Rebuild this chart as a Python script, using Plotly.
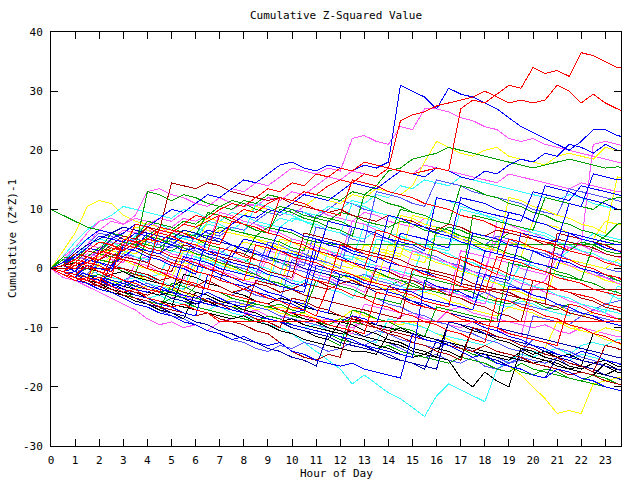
import plotly.graph_objects as go

HOURS = [i * 0.5 for i in range(49)]
X_TICKS = list(range(24))
Y_TICKS = [-30, -20, -10, 0, 10, 20, 30, 40]

s01 = [0, 0.5, 1.5, 1, 2.5, 3.5, 3, 4.5, 5, 4.5, 6, 7.5, 7, 8, 9, 8.5, 10, 9.5, 11, 12, 11.5, 13, 12.5, 14, 15, 14.5, 16, 15.5, 17, 16.5, 16, 16.5, 17, 16.5, 27, 28.5, 28, 29.5, 31, 30.5, 34, 33, 33.5, 32.5, 36.5, 36, 35, 34, 34]
s02 = [0, -0.5, 0.5, 2, 1.5, 3, 4, 3.5, 5, 6.5, 6, 7.5, 9, 8.5, 10, 11, 10.5, 12, 13.5, 13, 14.5, 14, 16, 15.5, 17, 16.5, 18, 17.5, 17, 25, 26, 26.5, 27.5, 28, 28.5, 29, 30, 29, 28, 28.5, 28, 28.5, 31, 30, 28, 29.5, 28, 27, 26]
s03 = [0, 1, 2.5, 4, 3.5, 5, 6.5, 6, 7.5, 8.5, 8, 9.5, 11, 10.5, 12, 13.5, 13, 14.5, 14, 15.5, 17, 16.5, 16, 17, 16.5, 22, 22.5, 21.5, 21, 24, 23.5, 27, 27, 26.5, 25.5, 25, 24, 23.5, 22, 21.5, 22, 21, 20.5, 20, 19.5, 19, 18.5, 18, 18]
s04 = [0, 0.5, 2, 3.5, 3, 5, 6, 7.5, 7, 8.5, 10, 9.5, 11, 12.5, 12, 13.5, 15, 14.5, 16, 17.5, 18, 17, 16.5, 17.5, 17, 16.5, 17.5, 17, 18, 31, 30, 29, 27, 30.5, 29.5, 29, 28, 27, 25.5, 24, 23, 22, 21, 20, 21.5, 23.5, 23.5, 22.5, 22]
s05 = [0, -0.5, 0, 1.5, 1, 0.5, 2, 3.5, 3, 2.5, 4, 5.5, 5, 6.5, 6, 7.5, 9, 8.5, 10, 9.5, 11, 12.5, 12, 11.5, 13, 14.5, 14, 13.5, 15, 16.5, 16, 15.5, 17, 16.5, 15.5, 15, 16.5, 16, 17.5, 18.5, 18, 19.5, 19, 21, 20.5, 19.5, 21, 20, 20]
s06 = [0, 1, 0.5, 2, 3.5, 3, 4.5, 4, 5.5, 7, 6.5, 8, 7.5, 9, 10.5, 10, 11.5, 11, 12.5, 12, 11.5, 13, 12.5, 12, 11.5, 13, 12.5, 14, 16.5, 17, 18.5, 19, 19.5, 20.5, 20, 19.5, 19, 18.5, 18, 17.5, 17, 17.5, 18, 18.5, 18, 17.5, 17, 17.2, 17]
s07 = [0, 1, 0.5, 2, 3.5, 3, 2.5, 4, 5, 4.5, 6, 5.5, 7, 8.5, 8, 7.5, 9, 10.5, 10, 9.5, 11, 10.5, 12, 11.5, 11, 12.5, 12, 13.5, 13, 12.5, 14, 18, 21.5, 20.5, 19.5, 19, 20, 20.5, 19, 18.5, 18, 17.5, 19, 19.5, 19, 18.5, 20.5, 20, 20]
s08 = [0, 3, 6, 10.5, 11.5, 11, 9, 8, 7.5, 7, 6, 5.5, 5, 4, 3.5, 3, 4.5, 4, 3, 2.5, 2, 1, 0.5, 0, -0.5, -1.5, -2, -1, -1.5, -2.5, -3, -3.5, -4, -3.5, -4.5, -5, -4, -5.5, -6, -5, -6.5, -7, -6, -7.5, -8, -7.5, -8, -8.5, -8.5]
s09 = [0, 2, 4.5, 6.5, 8, 9, 10.5, 10, 9.5, 9, 8.5, 10, 9.5, 8.5, 8, 9.5, 9, 8, 7.5, 7, 8.5, 8, 7, 6.5, 6, 5.5, 5, 6.5, 6, 5, 4.5, 4, 5.5, 5, 4.5, 3.5, 3, 4.5, 4, 3.5, 3, 2, 1.5, 3, 2.5, 2, 1, 0.5, 0.5]
s10 = [0, 1.5, 3.5, 6, 8, 8.5, 7.5, 9, 13, 13.5, 12.5, 12, 11, 12.5, 12, 11, 10.5, 11, 10, 9.5, 9, 10.5, 10, 9, 8.5, 8, 9.5, 9, 8, 7.5, 7, 8.5, 8, 7.5, 7, 6, 5.5, 5, 6.5, 6, 5, 4.5, 4, 3, 5, 4.5, 3.5, 3, 3]
s11 = [0, 0.5, 1.5, 3, 2.5, 4, 5.5, 5, 7, 6.5, 14.5, 14, 13.5, 14.5, 14, 13, 12.5, 12, 11.5, 12, 11, 10.5, 10, 9.5, 10, 9, 8.5, 8, 9, 8.5, 8, 7, 6.5, 7.5, 7, 6, 5.5, 6.5, 6, 5.5, 5, 4, 5, 4.5, 4, 3.5, 2.5, 2, 2]
s12 = [0, -0.5, -1, 0, 1.5, 1, 2, 3.5, 13, 12.5, 11.5, 12.5, 12, 11, 10.5, 11.5, 11, 10, 9.5, 10.5, 10, 9, 8.5, 8, 9.5, 9, 8, 7.5, 7, 8, 7.5, 6.5, 6, 7, 6.5, 5.5, 5, 4.5, 6, 5.5, 5, 4.5, 3.5, 3, 4.5, 4, 3, 2.5, 2.5]
s13 = [10, 9, 8, 7, 6.5, 6, 5, 4.5, 4, 3.5, 3, 4, 3.5, 2.5, 2, 1.5, 1, 2.5, 2, 1, 0.5, 0, -0.5, -1, -1.5, -1, -2, -2.5, -3, -2, -2.5, -3.5, -4, -4.5, -3.5, -4, -5, -5.5, -6, -5, -5.5, -6.5, -7, -6, -6.5, -7.5, -8, -8.5, -8.5]
s14 = [0, 0.5, 1.5, 1, 2.5, 2, 3, 4.5, 4, 3.5, 5, 6.5, 6, 5.5, 7, 6.5, 6, 5.5, 7, 6.5, 6, 5, 4.5, 4.2, 4, 4, 4, 4, 4, 4, 4, 4, 4, 4, 4, 4, 4, 4, 4, 4, 4, 4, 4, 4, 4, 4, 4, 4, 4]
s15 = [0, -0.5, -1.5, -2, -1.5, -3, -4, -3.5, -5, -5.5, -6.5, -6, -7, -7.5, -9, -9, -9, -9, -9, -9, -9, -9, -9, -9, -9, -9, -9, -9, -9, -9, -9, -9, -9, -9, -9, -9, -9, -9, -9, -9, -9, -9, -9, -9, -9, -9, -9, -9, -9]
s16 = [0, 0, 0, 0, 0, 0, 0, -0.5, -1, -2, -1.5, -2.5, -3, -2, -3, -4, -3.5, -2.5, -3, -4, -3.5, -2.5, -3, -3.5, -2.5, -2, -3, -3.5, -3.5, -3.5, -3.5, -3.5, -3.5, -3.5, -3.5, -3.5, -3.5, -3.5, -3.5, -3.5, -3.5, -3.5, -3.5, -3.5, -3.5, -3.5, -3.5, -3.5, -3.5]
s17 = [0, -0.5, -1, -1.5, -2, -2.5, -2, -3, -3.5, -4, -4.5, -5, -5.5, -6, -6.5, -7.5, -8, -8.5, -9.5, -10, -11, -12.5, -14, -15.5, -17, -19.5, -18, -19.5, -21, -22, -23.5, -25, -21.5, -19.5, -20.5, -21.5, -22.5, -17, -15.5, -14.5, -15, -14, -13.5, -14.5, -13, -12.5, -13, -12, -12]
s18 = [0, -1, -1.5, -2, -1.5, -2.5, -3, -3.5, -3, -4, -4.5, -5, -4.5, -5.5, -6, -6.5, -6, -7, -6.5, -7.5, -8, -7.5, -8.5, -9, -8.5, -7, -8, -8.5, -9, -9.5, -9, -10, -11, -12, -13, -14, -14.5, -16, -16.5, -18, -20, -22, -24.5, -24, -24.5, -19.5, -19, -18.5, -18.5]
s19 = [0, -0.5, -1, -2, -1.5, -2.5, -3, -3.5, -4, -4.5, -4, -5, -6, -5.5, -6.5, -7, -7.5, -8, -8.5, -9, -8.5, -9.5, -10, -10.5, -11, -10.5, -11.5, -12, -12.5, -13, -14, -14.5, -15, -15.5, -18.5, -20, -17.5, -19, -20, -13.5, -14.5, -14, -15, -14.5, -15.5, -16, -15.5, -16.5, -17]
s20 = [0, -1, -2, -2.5, -3.5, -4, -5, -6, -6.5, -7.5, -8, -9, -9.5, -10.5, -11, -12, -11.5, -12.5, -13, -12.5, -14, -14.5, -15.5, -16, -16.5, -16, -17, -17.5, -18, -18.5, -11, -12, -12.5, -13, -14, -15, -14.5, -16, -16.5, -17, -18, -18.5, -17, -17.5, -18.5, -19, -20, -20.5, -21]
s21 = [0, -1, -1.5, -2.5, -3, -4, -4.5, -5.5, -6, -7, -8, -8.5, -9.5, -10.5, -11, -12, -12.5, -13.5, -14, -13, -13.5, -12.5, -13, -14, -13.5, -12.5, -13, -12, -12.5, -13.5, -14.5, -15, -14.5, -15.5, -16, -15, -16.5, -17, -16, -15, -15.5, -16, -15, -16.5, -17, -16, -15.5, -16, -16]
s22 = [0, -1.5, -2, -3, -4, -5, -6, -7, -8.5, -9.5, -9, -10, -9.5, -10.5, -9, -8.5, -8, -7, -8, -8.5, -7.5, -8, -9, -8.5, -9.5, -10, -9, -9.5, -10.5, -8, -7.5, -8.5, -9, -7, -6.5, -7.5, -8, -8.5, -9, -9.5, -10, -9.5, -10.5, -11, -10, -10.5, -11, -11.5, -11.5]
s23 = [0, -0.5, -1, 0.5, -0.5, -1.5, 5, 4.5, 3.5, 3, 2, 1.5, 1, 0, -0.5, -1.5, -2, 4, 3.5, 3, 2, 1.5, 1, 0, -0.5, -1, -2, -2.5, -3, -4, -4.5, -5.5, -6, -6.5, 2, 1.5, 0.5, 0, -1, -1.5, -2, -2.5, -3.5, -4, -4.5, -5, -6, -6.5, -7]
s24 = [0, 1, 2, 3.5, 5.5, 5, 4.5, 6, 5.5, 4.5, 4, 3, 3.5, 2.5, 2, 1, 0.5, 0, -1, -1.5, -2.5, -3, 5, 4.5, 4, 3, 2.5, 2, 1, 0.5, 0, -0.5, -1.5, -2, -3, 6, 5.5, 5, 4, 3.5, 3, 2, 1.5, 1, 0, -0.5, -1, -1.5, -2]
s25 = [0, 0.5, -0.5, -1, 1, 0.5, 0, -1, -1.5, -1, 3, 2.5, 2, 1, 0.5, 0, -0.5, -1.5, -2, -2.5, -3, -2, -3, -3.5, -4, -5, -1, -1.5, -2, -3, -3.5, -4, -3, -3.5, -4.5, -5, -5.5, -6, -6.5, -5.5, -6, -7, -7.5, -8, -6, -6.5, -7, -7.5, -8]
s26 = [0, -1, -1.5, -2.5, -3, -3.5, -4.5, -5, -5.5, -6.5, -7, -7.5, -8, -7.5, -8.5, -9, -9.5, -10.5, -11, -12.5, -14, -15, -15.5, -14.5, -15, -8, -9, -10, -10.5, -11, -11.5, -12, -12.5, -13, -13.5, -14, -13, -14, -14.5, -15, -16, -16.5, -17, -18, -17.5, -18, -19, -19.5, -20]
s27 = [0, 0.5, 2, 1.5, 3, 4.5, 4, 5.5, 7, 6.5, 6, 7.5, 7, 6, 5.5, 7, 6.5, 8, 9.5, 9, 10, 9.5, 8.5, 10, 11.5, 11, 10, 9.5, 9, 8.5, 7.5, 7, 6.5, 6, 5, 4.5, 4, 5.5, 5, 4, 3.5, 3, 2.5, 1.5, 1, 0.5, 0, -0.5, -0.5]
s28 = [0, -0.5, -1, -2, -1.5, -2.5, -3, -2, -3, -3.5, -4, 2, 1.5, 1, 0, -0.5, -1, -1.5, -2, -3, -3.5, -4, 3, 2.5, 2, 1, 0.5, 0, -0.5, 6, 5.5, 5, 4, 3.5, 12, 11.5, 11, 10, 9.5, 9, 8, 14, 13.5, 13, 12, 11.5, 11, 10, 10]
s29 = [0, -0.5, -1.5, -2, -3, -3.5, -4, -5, -5.5, -6, -5, -5.5, -6.5, -7, -7.5, -8, -8.5, -9, -8, -8.5, -9.5, -10, -10.5, -11, -12, -12.5, -13, -13.5, -13, -14, -14.5, -15, -15.5, -16, -15, -15.5, -16, -17, -17.5, -16, -17, -17.5, -18, -18.5, -19, -19.5, -20, -20.5, -21]
s30 = [0, 0.5, 1, 2.5, 2, 3, 2.5, 1.5, 2, 1.5, 1, 0, 1.5, 1, 0, -0.5, -1, -1.5, 3, 2.5, 2, 1, 0.5, 0, -0.5, -1, -1.5, -2.5, -3, -3.5, -4, -3, -3.5, -4.5, 3, 2.5, 2, 1.5, 1, 0, -0.5, -1, 5, 4.5, 4, 3, 2.5, 2, 1.5]
s31 = [0, -0.5, -1, -2, -2.5, -2, -3, -3.5, -4, -4.5, -3.5, -4, -5, -5.5, -6, -5, -5.5, -6.5, -7, -6.5, -7, -6, 0, -0.5, -1, -2, -2.5, -3, -3.5, -4.5, -5, -4, -4.5, -5.5, -6, -7, -7.5, -8, -6.5, -7, -7.5, -8.5, -9, -10, -10.5, -11, -10, -10.5, -11]
s32 = [0, -0.5, -1.5, -2, -2.5, -3.5, -4, -4.5, -5, -5.5, -6, -6.5, -7, -7.5, -8, -8.5, -8, -9, -9.5, -10.5, -11, -12, -12.5, -13, -13.5, -14, -14, -14.5, -11, -10, -11, -11.5, -12, -13, -13.5, -14, -14.5, -15, -15.5, -14, -15, -15.5, -16.5, -17, -16.5, -17.5, -18, -17, -17.5]
s33 = [0, 0.5, -0.5, -1.5, -2, -1, -2, -3, -3.5, -4, -5, -5.5, -6, -5, -6, -6.5, -7.5, -8, -8.5, -9, -10, -10.5, -11, -11.5, -12.5, -13, -13.5, -14, -15, -15.5, -16, -16.5, -17, -9, -9.5, -10, -11, -11.5, -12, -12.5, -13, -14, -14.5, -15, -15.5, -16, -16.5, -17, -17.5]
s34 = [0, -1, -1.5, -2, 3, 2.5, 1.5, 1, 0, -0.5, -1.5, -2, -2.5, -3.5, -4, -4.5, -5, -5.5, -6, -7, -7.5, -8, -8.5, -9.5, -10, -10.5, -11, -4, -4.5, -5, -6, -6.5, -7, -7.5, -8.5, -9, -9.5, -10, -11, -11.5, -12, -12.5, -13, -6, -6.5, -7.5, -8, -8.5, -9]
s35 = [0, 1, 0.5, 2, 1.5, 3, 4, 3.5, 4.5, 4, 5.5, 5, 6, 7.5, 7, 6.5, 8, 7.5, 7, 8.5, 8, 9.5, 9, 10.5, 10, 11.5, 11, 12.5, 12, 14, 13.5, 15, 14.5, 14, 15.5, 15, 14.5, 14, 13.5, 13, 12.5, 12, 11.5, 12.5, 12, 11, 10.5, 10, 9.5]
s36 = [0, -1, -0.5, -1.5, -2, -3, -2.5, -3.5, -4, -3, -4, -4.5, -5, -4, -5, -6, -6.5, -5.5, -6, -7, -7.5, -7, -8, -8.5, -9, -8, -8.5, -9.5, -3, -3.5, -4, -5, -5.5, -6, -6.5, -7, -1, -1.5, -2, 6, 5.5, 5, 4.5, 11, 10.5, 16, 15.5, 15, 15]
s37 = [0, 0.5, 0, -1, -0.5, -1.5, -2, -1, -2, -2.5, -3, -3.5, -2.5, -3.5, -4, -4.5, -3.5, -4.5, -5, -5.5, 1.5, 1, 0, -0.5, -1, -1.5, -1, -2, -2.5, -3, -2, -2.5, -3.5, -4, -4.5, -5, -4, -5, -5.5, -6, -6.5, -7, -6, -7, -7.5, -8, -8.5, -9, -9]
s38 = [0, -0.5, -1, -1.5, -1, -2, -2.5, -3, -3.5, -4, -3.5, -4.5, -5, -5.5, -6, -6.5, -7, -6, -6.5, -7, -8, -8.5, -9, -9.5, -8.5, -9, -9.5, -10, -10.5, -10, -11, -11.5, -6.5, -7, -7.5, -8, -8.5, -9, 1, 0.5, 0, -0.5, -1, -1.5, -2, 4, 5.5, 7.5, 8]
s39 = [0, -0.5, -1.5, -2, -2.5, -3, -2, -3, -3.5, -4, -5, -4.5, -5.5, -6, -6.5, -7, -7.5, -7, -8, -8.5, -7.5, -8.5, -9, -10, -10.5, -11, -6, -6.5, -7, -7.5, -8, -8.5, -9, -9.5, -10, -9, -10, -10.5, -11, -11.5, -3, -2, 2, 3.5, 4, 21, 21.5, 21, 20.5]
s40 = [0, 0.5, 1.5, 1, 2, 3.5, 3, 2.5, 4, 5.5, 5, 4.5, 4, 5, 6.5, 6, 5.5, 5, 4, 3.5, 5, 4.5, 4, 3, 2.5, 2, 1.5, 3, 2.5, 2, 9, 8.5, 8, 7.5, 7, 6, 5.5, 5, 4.5, 4, 3.5, 3, 2, 1.5, 1, 0.5, 0, 1.5, 1]
s41 = [0, 0.5, 0, 1, 0.5, -0.5, 1.5, 1, 0, 7, 6.5, 6, 5, 4.5, 4, 8, 7.5, 7, 6, 12, 11.5, 11, 10, 9.5, 9, 15, 14.5, 14, 13, 12.5, 12, 11, 10.5, 10, 9, 8.5, 8, 7, 6.5, 6, 5, 4.5, 4, 3, 2.5, 2, 1, 0.5, 0]
s42 = [0, 1, 0.5, 0, 1.5, 2.5, 2, 1.5, 1, 0, -0.5, 4, 3.5, 3, 2, 1.5, 1, 0.5, -0.5, -1, -1.5, 6, 5.5, 5, 4.5, 3.5, 3, 2.5, 2, 1.5, 0.5, 0, -0.5, -1, -1.5, -2.5, -3, -3.5, -4, -5, -5.5, -6, -6.5, -7.5, -8, -8.5, -9, -9.5, -10]
s43 = [0, -1, -1.5, 0.5, 0, -0.5, 4, 3.5, 6, 5.5, 5, 4.5, 3.5, 3, 2.5, 2, 5, 4.5, 4, 3, 2.5, 2, 1.5, 8, 7.5, 7, 6.5, 6, 5, 4.5, 4, 3, 12, 11.5, 11, 10, 9.5, 9, 8.5, 8, 13, 12.5, 12, 11.5, 14, 13.5, 13, 12.5, 12]
s44 = [0, -0.5, -1.5, -2, -2.5, -3.5, -4, -4.5, -5, -4.5, -5.5, -6, -6.5, -7, -6, -7, -7.5, -8, -8.5, -9, -9.5, -10, -9.5, -10.5, -11, -11.5, -12, -12.5, -8.5, -9, -9.5, -10, -11, -11.5, -12, -12.5, -13, -12, -12.5, -13.5, -14, -14.5, -15, -15.5, -14.5, -15, -15.5, -16, -16]
s45 = [0, 0.5, 1, 0, -0.5, -1, -0.5, -1.5, -2, -2.5, -3, -2, -2.5, -3.5, -4, -4.5, -5, -5.5, -6, -5, -5.5, -6.5, -7, -7.5, -8, -8.5, -9, -9.5, -10, -10.5, -11, -11.5, -12, -12.5, -13, -13.5, -14, -14.5, -15, -15.5, -16, -15.5, -16, -17, -17.5, -18, -16, -17, -17.5]
s46 = [0, 1, 0.5, 2, 3, 4.5, 4, 5, 6.5, 6, 7, 8.5, 8, 9, 10.5, 10, 11, 10.5, 12, 11.5, 13, 12.5, 14, 15.5, 15, 16.5, 16, 15.5, 17, 16.5, 16, 17.5, 17, 16.5, 16, 15.5, 15, 14.5, 16, 15.5, 15, 14.5, 14, 13.5, 14.5, 14, 13.5, 13, 13]
s47 = [0, 0.5, 1.5, 3, 2.5, 2, 3.5, 5, 4.5, 4, 3.5, 4.5, 4, 3, 2.5, 4, 3.5, 3, 2, 1.5, 1, 0.5, 7, 6.5, 6, 5, 4.5, 13, 12.5, 12, 11, 10.5, 15, 14.5, 14, 13, 12.5, 12, 11.5, 11, 10, 9.5, 9, 13.5, 13, 12.5, 12, 11.5, 11]
s48 = [0, -0.5, 0.5, 0, -1, -1.5, -2, -1.5, -2.5, -3, -3.5, -2.5, -3, 2, 1.5, 1, 0.5, -0.5, -1, -1.5, -2, -2.5, -3, 3, 2.5, 2, 1, 0.5, 0, -0.5, -1, 4, 3.5, 3, 10, 9.5, 9, 8, 7.5, 7, 6.5, 6, 5, 4.5, 4, 6, 5.5, 5, 5]
s49 = [0, -0.5, -1, -2, -2.5, -3, -2, -3, -3.5, -4, -4.5, -5, -3, -3.5, -4, -5, -5.5, -6, -6.5, -6, -7, -7.5, -2, -2.5, -3, -3.5, -4.5, -5, -5.5, -6, -1, -1.5, -2, -2.5, -3, 9, 8.5, 8, 7.5, 7, 6.5, 12, 11.5, 11, 10.5, 10, 11.5, 12, 12]
s50 = [0, -1, -1.5, -1, -2, -2.5, -3, -2.5, -3.5, -4, -4.5, 1, 0.5, 0, -0.5, -1.5, -2, -1.5, -2.5, -3, 3, 2.5, 2, 1, 0.5, 0, 4, 3.5, 3, 2.5, 1.5, 1, 6, 5.5, 5, 4, 3.5, 3, 2.5, 2, 8, 7.5, 7, 6, 5.5, 5, 8, 7.5, 7]
s51 = [0, -0.5, -1, -1.5, -2.5, -3, -3.5, -4, -4.5, -3.5, -4, -5, -5.5, -6, -6.5, -7, -7.5, -2, -2.5, -3, -3.5, -4.5, -5, -5.5, -6, -6.5, -7, -7.5, -8, -8.5, 0, -0.5, -1, -1.5, -2.5, -3, -3.5, -4, -4.5, -5, -5.5, -6, 6, 5.5, 5, 4.5, 4, 3, 2.5]
s52 = [0, 0.5, -0.5, -1, -1.5, -2, -2.5, -2, -3, -3.5, -4, -5, -5.5, -6, -6.5, -7, -7.5, -8, -8.5, -9, -9.5, -10, -10.5, -11, -11.5, -12, -13, -13.5, -14, -14.5, -15, -2, -3, -3.5, -4, -5, 3, 2.5, 2, 1.5, 1, 0.5, 0, 6, 5.5, 5, 4.5, 4, 4]
s53 = [0, -0.5, -1, -1.5, -1, -2, -2.5, -3, -2.5, -3.5, -4, -4.5, -5, -5.5, -6, -5.5, -6, -6.5, -7, -8, -8.5, -9, -9.5, -10, -10.5, -11, -11.5, -10.5, -11, -12, -12.5, -13, -13.5, -12.5, -13, -14, -14.5, -15, -16, -15.5, -8, -8.5, -9, -9.5, -8, -7, -6, -5.5, -5]
s54 = [0, 1, 2.5, 4, 5, 6, 7, 6.5, 6, 5.5, 5, 6.5, 6, 5, 4.5, 4, 3, 2.5, 2, 1.5, 1, 0, -0.5, -1, -2, -2.5, -3, -4, -4.5, -5, -5.5, -6.5, -7, -7.5, -8, -8.5, -9.5, -10, -10.5, -11, -11.5, -12, -12.5, -13, -13.5, -14, -14.5, -15, -15]
s55 = [0, 1.5, 1, 3, 2.5, 5, 4.5, 4, 3, 2.5, 6, 5.5, 5, 4, 3.5, 3, 2, 5.5, 5, 4.5, 3.5, 3, 9, 8.5, 8, 7, 6.5, 6, 5, 10, 9.5, 9, 8, 7.5, 7, 6, 5.5, 5, 4, 3.5, 3, 2, 1.5, 1, 0, -0.5, -1, -2, -2.5]
s56 = [0, -1, -2, -1.5, -2.5, 2, 1.5, 1, 0, -0.5, -1.5, -2, -3, -3.5, 3.5, 3, 2, 1.5, 1, 0, -0.5, -1.5, -2, -2.5, 4, 3.5, 2.5, 2, 1.5, 0.5, 0, -1, -1.5, -2, -3, -3.5, -4, 2, 1.5, 1, 0, -0.5, -1.5, -2, -2.5, -3.5, -4, -4.5, -5]
s57 = [0, 0.5, -0.5, -1.5, -2, -3, -3.5, -4.5, -5, -6, -6.5, -7.5, -8, -1, -1.5, -2.5, -3, -4, -4.5, -5.5, -6, -7, 0.5, 0, -1, -1.5, -2.5, -3, -4, -4.5, -5.5, -6, -7, -7.5, -8.5, -9, -10, -10.5, -3, -3.5, -4.5, -5, -6, -6.5, -7.5, -8, -9, -9.5, -10]
s58 = [0, 2, 3.5, 3, 2.5, 1.5, 1, 4.5, 4, 3.5, 2.5, 2, 1, 0.5, -0.5, -1, -2, -2.5, 2, 1.5, 0.5, 0, -1, -1.5, -2.5, -3, -4, 0.5, 0, -1, -1.5, -2.5, -3, -4, -4.5, -5.5, -6, -1, -1.5, -2.5, -3, -4, -4.5, -5.5, -6, -7, -7.5, -8.5, -9]
s59 = [0, -1, -2, -1.5, 1.5, 1, 0, -0.5, -1.5, -2, -3, -3.5, 2, 1.5, 0.5, 0, -1, -1.5, -2.5, 3, 2.5, 1.5, 1, 0, -0.5, -1.5, -2, 5, 4.5, 3.5, 3, 2, 1.5, 0.5, 0, -1, -1.5, -2.5, -3, 1, 0.5, -0.5, -1, -2, -2.5, -3.5, -4, -5, -5.5]
s60 = [0, 0.5, 2, 4, 6, 5.5, 4.5, 7, 6.5, 5.5, 5, 4, 3.5, 8, 7.5, 6.5, 6, 5, 4.5, 3.5, 3, 2, 1.5, 0.5, 0, -1, -1.5, -2.5, 4, 3.5, 2.5, 2, 1, 0.5, -0.5, -1, -2, -2.5, -3.5, -4, -5, -5.5, 1, 0.5, -0.5, -1, -2, -2.5, -3.5]
s61 = [0, -0.5, -1.5, -2.5, -3, -4, -4.5, -5.5, -6, -7, -7.5, -8.5, -4, -4.5, -5.5, -6, -7, -7.5, -8.5, -9, -10, -10.5, -11.5, -12, -9, -9.5, -10.5, -11, -12, -12.5, -13.5, -14, -15, -9, -9.5, -10.5, -11, -12, -12.5, -13.5, -14, -15, -15.5, -16.5, -17, -16, -16.5, -17.5, -18]
s62 = [0, 1, 2.5, 2, 1, 0.5, 4, 3.5, 2.5, 2, 1, 0.5, -0.5, -1, -2, 3, 2.5, 1.5, 1, 0, -0.5, -1.5, -2, -3, -3.5, -4.5, -5, 0, -0.5, -1.5, -2, -3, -3.5, -4.5, -5, -6, -6.5, -7.5, -8, -9, -2, -2.5, -3.5, -4, -5, -5.5, -6.5, -7, -8]
s63 = [0, -0.5, -1.5, -1, 1, 0.5, 2.5, 2, 1, 5, 4.5, 3.5, 3, 2, 1.5, 0.5, 0, -1, 4.5, 4, 3, 2.5, 1.5, 1, 0, 7, 6.5, 5.5, 5, 4, 3.5, 2.5, 2, 1, 0.5, -0.5, -1, -2, -2.5, -3.5, 3, 2.5, 1.5, 1, 0, -0.5, -1.5, -2, -3]
s64 = [0, -1, -1.5, -2.5, -3, -4, -4.5, -5.5, -6, -7, -2.5, -3, -4, -4.5, -5.5, -6, -7, -7.5, -8.5, -9, -10, -10.5, -11.5, -12, -13, -7, -7.5, -8.5, -9, -10, -10.5, -11.5, -12, -13, -13.5, -14.5, -15, -16, -16.5, -17.5, -18, -17, -17.5, -18.5, -19, -18, -18.5, -19.5, -20]
s65 = [0, 0.5, 1.5, 3, 4.5, 4, 3, 7.5, 7, 6, 5.5, 4.5, 4, 3, 9, 8.5, 7.5, 7, 6, 5.5, 4.5, 4, 3, 2.5, 1.5, 1, 0, 6.5, 6, 5, 4.5, 3.5, 3, 2, 1.5, 0.5, 0, -1, 5, 4.5, 3.5, 3, 2, 1.5, 0.5, 0, -1, -1.5, -2.5]
s66 = [0, 1, 3, 5, 6.5, 6, 5, 4.5, 3.5, 3, 2, 1.5, 0.5, 0, -1, -1.5, -2.5, -3, -4, -4.5, -5.5, -6, -7, -7.5, -1, -1.5, -2.5, -3, -4, -4.5, -5.5, -6, -7, -7.5, -8.5, -9, -10, -10.5, -11.5, -12, -13, -13.5, -14.5, -15, -14, -14.5, -15.5, -16, -17]
s67 = [0, -0.5, -1.5, -2, -3, -2.5, -3.5, 1, 0.5, -0.5, -1, -2, 4, 3.5, 2.5, 2, 1, 0.5, -0.5, -1, -2, 3.5, 3, 2, 1.5, 0.5, 0, -1, -1.5, -2.5, 3, 2.5, 1.5, 1, 0, -0.5, -1.5, 8, 7.5, 6.5, 6, 5, 4.5, 3.5, 3, 2, 1.5, 0.5, 0]
s68 = [0, 1, 3.5, 5, 4.5, 3.5, 3, 2, 1.5, 6.5, 6, 5, 4.5, 3.5, 3, 2, 1.5, 0.5, 0, -1, 5, 4.5, 3.5, 3, 2, 1.5, 7.5, 7, 6, 5.5, 4.5, 4, 3, 2.5, 1.5, 1, 0, -0.5, -1.5, -2, -3, -3.5, -4.5, -5, -6, -6.5, -7.5, -3, -3.5]
s69 = [0, -0.5, -1.5, -2, -3, -3.5, -4.5, -5, -6, -6.5, -7.5, -8, -9, -9.5, -10.5, -11, -12, -12.5, -13.5, -14, -15, -15.5, -16.5, -11, -11.5, -12.5, -13, -14, -14.5, -15.5, -16, -17, -12, -12.5, -13.5, -14, -15, -15.5, -16.5, -17, -18, -18.5, -15, -15.5, -16.5, -17, -18, -18.5, -19.5]
s70 = [0, -0.5, -1, -2, 1, 0.5, -0.5, -1, -2, -2.5, -3.5, -4, 0.5, 0, -1, -1.5, -2.5, -3, -4, -4.5, -5.5, -6, -7, -7.5, -1, -1.5, -2.5, -3, -4, -4.5, -5.5, -6, -7, -7.5, -8.5, -9, -10, -10.5, -11.5, -12, -13, -13.5, -9, -9.5, -10.5, -11, -12, -12.5, -13.5]
s71 = [0, 2, 1.5, 3.5, 3, 6, 5.5, 5, 8, 7.5, 7, 6, 5.5, 9.5, 9, 8, 7.5, 6.5, 6, 10, 9.5, 8.5, 8, 7, 6.5, 5.5, 12.5, 12, 11, 10.5, 9.5, 9, 8, 7.5, 14, 13.5, 12.5, 12, 11, 10.5, 9.5, 9, 8, 7.5, 6.5, 6, 5, 4.5, 4]
s72 = [0, -0.5, -1.5, -2, -3, 0.5, 0, -1, -1.5, -2.5, -3, -4, -4.5, -5.5, -6, -7, -7.5, -8.5, -9, -10, -5, -5.5, -6.5, -7, -8, -8.5, -9.5, -10, -11, -11.5, -12.5, -13, -14, -14.5, -15.5, -10, -10.5, -11.5, -12, -13, -13.5, -14.5, -15, -16, -16.5, -17.5, -13, -13.5, -14.5]
s73 = [0, -0.5, 1, 0.5, -0.5, -1, -2, -2.5, -3.5, -4, 1, 0.5, -0.5, -1, -2, -2.5, -3.5, -4, -5, -5.5, -6.5, -7, -8, -3, -3.5, -4.5, -5, -6, -6.5, -7.5, -8, -9, -9.5, -10.5, -11, -12, -12.5, -5, -5.5, -6.5, -7, -8, -8.5, -9.5, -10, -11, -11.5, -12.5, -13]
s74 = [0, 1.5, 2, 4, 6, 5.5, 4.5, 4, 3, 2.5, 1.5, 1, 6, 5.5, 4.5, 4, 3, 2.5, 1.5, 1, 0, -0.5, -1.5, -2, -3, -3.5, -4.5, -5, -6, -6.5, -7.5, -8, -9, -9.5, -10.5, -11, -12, -12.5, -13.5, -14, -12, -12.5, -13.5, -14, -15, -15.5, -16.5, -17, -18]
s75 = [0, -1, -0.5, 1.5, 1, 0, 3.5, 3, 2, 1.5, 0.5, 0, -1, 5.5, 5, 4, 3.5, 2.5, 2, 7, 6.5, 5.5, 5, 4, 3.5, 2.5, 2, 1, 9, 8.5, 7.5, 7, 6, 5.5, 4.5, 4, 3, 2.5, 9.5, 9, 8, 7.5, 6.5, 6, 5, 4.5, 3.5, 3, 2]
s76 = [0, 1, 2.5, 4, 6.5, 8, 7.5, 8.5, 8, 7, 6.5, 5.5, 5, 4, 9.5, 9, 8, 7.5, 6.5, 6, 5, 4.5, 3.5, 3, 2, 8, 7.5, 6.5, 6, 5, 4.5, 3.5, 3, 2, 1.5, 0.5, 0, 5, 4.5, 3.5, 3, 2, 1.5, 0.5, 0, -1, -1.5, -2.5, -3]
s77 = [0, 0.5, 2, 4, 5, 4.5, 3.5, 5.5, 8, 7.5, 6.5, 6, 5, 8, 7.5, 6.5, 6, 11, 10.5, 9.5, 9, 8, 7.5, 6.5, 6, 11, 10.5, 9.5, 9, 8, 7.5, 6.5, 12, 11.5, 10.5, 10, 9, 8.5, 7.5, 7, 6, 5.5, 4.5, 4, 3, 2.5, 1.5, 1, 0]
s78 = [0, 0.5, -0.5, -1, -2, -2.5, -3.5, -4, -5, -5.5, -6.5, -1, -1.5, -2.5, -3, -4, -4.5, -5.5, -6, -7, -7.5, -8.5, -9, -10, -10.5, -11.5, -12, -13, -13.5, -14.5, -15, -14.5, -13.5, -14, -15, -10, -10.5, -11.5, -12, -13, -13.5, -14.5, -15, -16, -16.5, -11, -11.5, -12.5, -13]
s79 = [0, 0.5, 2.5, 2, 1, 0.5, -0.5, -1, 5.5, 5, 4, 3.5, 2.5, 2, 1, 0.5, -0.5, -1, -2, -2.5, -3.5, -4, 3, 2.5, 1.5, 1, 0, -0.5, -1.5, -2, -3, -3.5, 7, 6.5, 5.5, 5, 4, 3.5, 2.5, 2, 1, 0.5, -0.5, -1, -2, -2.5, -3.5, -4, -5]
s80 = [0, -0.5, -1.5, -1, 0.5, 2, 1.5, 0.5, 0, -1, -1.5, 3, 2.5, 1.5, 1, 0, -0.5, -1.5, -2, 5, 4.5, 3.5, 3, 2, 1.5, 0.5, 0, -1, -1.5, 9, 8.5, 7.5, 7, 6, 5.5, 4.5, 4, 3, 12, 11.5, 10.5, 10, 9, 8.5, 7.5, 7, 6, 15.5, 15]

RED, BLUE, GREEN, MAGENTA, CYAN = "#ff0000", "#0000ff", "#00a000", "#ff55ff", "#33ffff"
YELLOW, BLACK, DKRED, LTBLUE, NAVY = "#ffff00", "#000000", "#aa0000", "#5555ff", "#0000aa"

SERIES = [
    (s08, YELLOW), (s09, CYAN), (s10, MAGENTA), (s13, GREEN), (s17, CYAN), (s18, YELLOW),
    (s22, MAGENTA), (s25, CYAN), (s27, LTBLUE), (s30, MAGENTA), (s31, YELLOW), (s35, CYAN),
    (s37, LTBLUE), (s40, YELLOW), (s44, CYAN), (s46, MAGENTA), (s47, LTBLUE), (s48, CYAN),
    (s50, YELLOW), (s53, LTBLUE), (s03, MAGENTA), (s07, YELLOW), (s39, MAGENTA), (s21, LTBLUE),
    (s58, MAGENTA), (s59, CYAN), (s60, YELLOW), (s63, LTBLUE), (s67, MAGENTA), (s68, CYAN),
    (s70, YELLOW), (s74, LTBLUE), (s76, MAGENTA), (s77, CYAN), (s80, YELLOW),
    (s06, GREEN), (s12, GREEN), (s14, GREEN), (s29, GREEN), (s38, GREEN), (s49, GREEN),
    (s55, GREEN), (s64, GREEN), (s71, GREEN), (s79, GREEN),
    (s19, BLACK), (s32, BLACK), (s45, BLACK), (s61, BLACK), (s78, BLACK),
    (s33, NAVY), (s54, NAVY), (s69, NAVY),
    (s11, DKRED), (s16, DKRED), (s26, DKRED), (s42, DKRED), (s51, DKRED), (s62, DKRED), (s72, DKRED),
    (s04, BLUE), (s05, BLUE), (s20, BLUE), (s24, BLUE), (s28, BLUE), (s36, BLUE), (s43, BLUE),
    (s52, BLUE), (s57, BLUE), (s66, BLUE), (s75, BLUE),
    (s01, RED), (s02, RED), (s15, RED), (s23, RED), (s34, RED), (s41, RED),
    (s56, RED), (s65, RED), (s73, RED),
]

FONT = "DejaVu Sans Mono"

fig = go.Figure()
for vals, col in SERIES:
    vals = vals[:len(HOURS)]
    fig.add_trace(go.Scatter(
        x=HOURS[:len(vals)], y=vals, mode="lines",
        line=dict(color=col, width=1), showlegend=False, hoverinfo="skip",
    ))

axis_common = dict(
    showgrid=False, zeroline=False, showline=True, linecolor="black", linewidth=1,
    mirror="ticks", ticks="inside", ticklen=7, tickcolor="black", tickwidth=1,
    tickfont=dict(family=FONT, size=11, color="black"),
)

fig.update_layout(
    width=640, height=480,
    margin=dict(l=51, r=19, t=32, b=34),
    paper_bgcolor="white", plot_bgcolor="white",
    title=dict(text="Cumulative Z-Squared Value", x=0.525, xanchor="center",
               y=1 - 15 / 480, yanchor="middle",
               font=dict(family=FONT, size=11, color="black")),
    xaxis=dict(range=[0, 23.65], tickvals=X_TICKS, ticktext=[str(v) for v in X_TICKS],
               ticklabelstandoff=4, **axis_common),
    yaxis=dict(range=[-30, 40], tickvals=Y_TICKS, ticktext=[str(v) for v in Y_TICKS],
               ticklabelstandoff=5, **axis_common),
    annotations=[
        dict(text="Hour of Day", xref="paper", yref="paper", x=0.5, y=-27 / 414,
             xanchor="center", yanchor="middle", showarrow=False,
             font=dict(family=FONT, size=11, color="black")),
        dict(text="Cumulative (Z*Z)-1", xref="paper", yref="paper", x=-39 / 570, y=0.5,
             xanchor="center", yanchor="middle", showarrow=False, textangle=-90,
             font=dict(family=FONT, size=11, color="black")),
    ],
)

CRISP = ("var s=document.createElement('style');"
         "s.textContent='.scatterlayer path{shape-rendering:crispEdges}';"
         "document.head.appendChild(s);")

fig.write_html("out.html", post_script=CRISP)
